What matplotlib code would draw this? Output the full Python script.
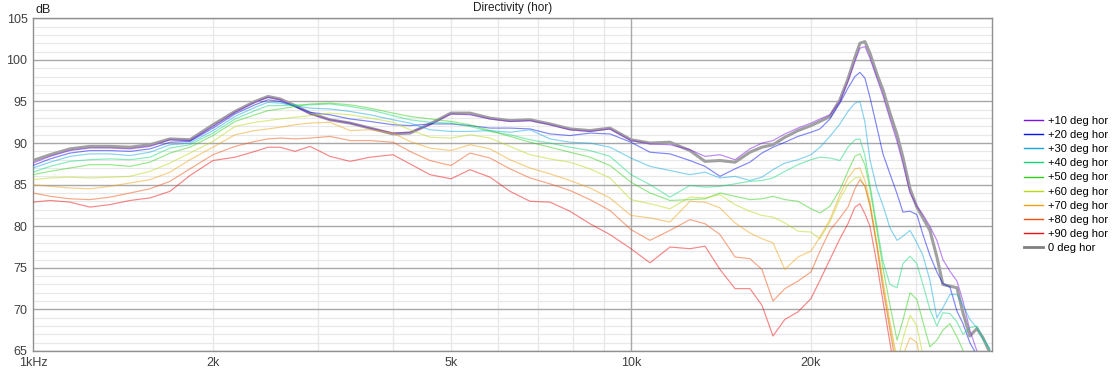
import matplotlib
matplotlib.use("Agg")
import matplotlib.pyplot as plt
from matplotlib.lines import Line2D
from matplotlib.ticker import NullLocator

# frequency points (Hz)
freq = [
    1000, 1068, 1153, 1245, 1345, 1453, 1569, 1695, 1830, 2000,
    2177, 2351, 2472, 2590, 2742, 2906, 3138, 3390, 3661, 4000,
    4270, 4612, 5000, 5380, 5811, 6276, 6779, 7321, 7907, 8540, 9223, 10000,
    10760, 11620, 12550, 13300, 14090, 14930, 15810, 16560, 17280, 18090, 19020,
    20000, 20705, 21515,
    22360, 23060, 23690, 24150, 24620, 25100, 25780, 26390, 27110, 27860, 28500,
    29290, 30070, 30780, 31620, 32480, 33240, 34150, 35090, 35910, 36880, 37890,
    38780, 39840,
]

spl_0 = [
    87.9, 88.6, 89.3, 89.6, 89.6, 89.5, 89.8, 90.5, 90.4, 92.2,
    93.8, 95.0, 95.6, 95.3, 94.5, 93.6, 92.8, 92.4, 91.8, 91.1,
    91.2, 92.3, 93.6, 93.6, 93.0, 92.7, 92.8, 92.3, 91.7, 91.5, 91.8, 90.4,
    90.0, 90.1, 89.1, 87.8, 87.9, 87.7, 88.9, 89.5, 89.8, 90.7, 91.5,
    92.1, 92.6, 93.2,
    95.2, 97.7, 100.3, 102.0, 102.2, 100.8, 98.3, 96.4, 93.6, 91.0, 88.3,
    84.5, 82.3, 81.0, 79.5, 76.3, 73.0, 72.8, 72.6, 69.6, 66.8, 67.7, 66.6, 64.8,
]
spl_10 = [
    87.6, 88.4, 89.1, 89.4, 89.4, 89.3, 89.6, 90.4, 90.3, 92.0,
    93.7, 94.9, 95.5, 95.2, 94.4, 93.5, 92.8, 92.4, 91.8, 91.2,
    91.3, 92.2, 93.5, 93.4, 92.9, 92.6, 92.7, 92.2, 91.6, 91.4, 91.7, 90.3,
    89.9, 89.8, 89.2, 88.4, 88.6, 88.0, 89.3, 90.0, 90.3, 91.1, 91.8,
    92.4, 92.9, 93.4,
    95.0, 97.4, 99.8, 101.4, 101.6, 100.2, 97.8, 95.7, 92.9, 90.2, 87.5,
    84.0, 82.4, 81.4, 80.0, 78.3, 76.0, 74.6, 73.4, 71.0, 67.5, 65.0, 63.5, 62.5,
]
spl_20 = [
    87.3, 88.1, 88.8, 89.1, 89.1, 89.0, 89.3, 90.1, 90.2, 91.8,
    93.5, 94.6, 95.2, 95.0, 94.4, 93.7, 93.4, 92.9, 92.6, 92.2,
    92.1, 92.3, 92.3, 92.1, 91.8, 91.8, 91.7, 91.1, 90.9, 91.2, 91.1, 90.1,
    88.9, 88.7, 87.9, 87.2, 86.0, 86.9, 87.7, 88.8, 89.5, 90.1, 90.8,
    91.3, 91.7, 92.9,
    94.8, 96.6, 98.0, 98.5, 97.8, 95.5, 91.9, 88.7, 86.3, 83.9, 81.7,
    81.8, 81.4, 79.0, 76.5, 74.5, 73.1, 72.7, 69.8, 68.3, 66.0, 64.5, 63.5, 63.0,
]
spl_30 = [
    87.0, 87.7, 88.4, 88.7, 88.7, 88.5, 88.9, 89.8, 90.0, 91.5,
    93.2, 94.3, 94.9, 94.8, 94.5, 94.2, 94.1, 93.8, 93.4, 92.8,
    92.4, 91.6, 91.4, 91.4, 91.5, 91.3, 91.6, 90.5, 90.1, 90.0, 89.5, 88.2,
    87.2, 86.7, 86.2, 86.5, 85.8, 86.0, 85.5, 85.9, 86.8, 87.6, 88.0,
    88.6, 89.5, 90.8,
    92.3, 93.8, 94.8, 95.0, 92.5, 88.0, 84.5, 82.5, 79.8, 78.3, 78.8,
    79.5, 78.0, 76.5, 73.5, 69.0, 70.2, 71.8, 71.8, 70.5, 68.8, 67.8, 66.5, 65.3,
]
spl_40 = [
    86.5, 87.2, 87.8, 88.0, 88.1, 88.0, 88.3, 89.4, 89.8, 91.2,
    92.9, 93.9, 94.5, 94.5, 94.6, 94.6, 94.7, 94.4, 94.0, 93.3,
    92.8, 92.5, 92.4, 92.0, 91.4, 91.0, 90.4, 90.0, 89.5, 89.1, 88.4, 86.2,
    85.0, 83.5, 84.9, 84.7, 84.8, 85.1, 85.4, 85.5, 85.8, 86.6, 87.4,
    88.0, 88.3, 88.2,
    87.9, 89.5, 90.4, 90.5, 88.5, 85.0, 80.0, 75.8, 73.0, 72.6, 75.5,
    76.4, 75.5, 73.0, 70.0, 68.0, 69.6, 69.5, 68.5, 67.0, 67.8, 68.0, 66.5, 65.0,
]
spl_50 = [
    86.2, 86.6, 87.0, 87.4, 87.4, 87.2, 87.7, 88.8, 89.5, 90.9,
    92.6, 93.4, 93.9, 94.1, 94.4, 94.7, 94.8, 94.6, 94.2, 93.6,
    93.2, 92.9, 92.6, 92.2, 91.5, 90.8, 90.1, 89.5, 88.9, 88.3, 87.3, 85.3,
    84.0, 83.1, 83.2, 83.3, 84.0, 83.6, 83.2, 83.3, 83.6, 83.2, 83.0,
    82.1, 81.6, 82.4,
    84.4, 86.6, 88.4, 88.7, 87.4, 84.5, 79.5, 75.0, 70.5, 66.3, 68.7,
    72.0, 71.2, 68.5, 65.5, 66.3, 67.5, 68.3, 66.7, 65.1, 64.0, 63.5, 63.0, 62.5,
]
spl_60 = [
    85.6, 85.8, 85.9, 85.8, 85.9, 86.0, 86.6, 87.6, 88.8, 90.2,
    92.0, 92.5, 92.7, 92.9, 93.1, 93.3, 93.6, 93.4, 93.0, 92.5,
    91.6, 90.7, 90.6, 91.0, 90.6, 89.6, 88.6, 88.1, 87.7, 86.9, 85.8, 83.2,
    82.7, 82.1, 83.5, 83.4, 83.8, 82.6, 81.8, 81.3, 81.1, 80.4, 79.4,
    79.3, 78.5, 80.5,
    83.3, 85.0, 85.8, 85.9, 84.8, 82.5, 77.8, 73.0, 68.0, 63.5, 66.5,
    69.3, 68.0, 64.5, 62.0, 61.0, 60.5, 60.0, 60.0, 60.0, 60.0, 60.0, 60.0, 60.0,
]
spl_70 = [
    85.0, 84.8, 84.6, 84.5, 84.8, 85.2, 85.6, 86.5, 88.0, 89.5,
    91.0, 91.5, 91.7, 91.9, 92.2, 92.4, 92.5, 91.5, 91.6, 91.2,
    90.2, 89.4, 89.1, 89.8, 89.3, 88.0, 87.0, 86.3, 85.5, 84.6, 83.4, 81.3,
    81.0, 80.5, 83.0, 82.9, 82.2, 80.4, 79.2, 78.5, 78.0, 74.8, 76.3,
    77.0, 78.7, 80.8,
    83.8, 85.8, 86.9, 87.0, 85.5, 83.0, 78.0, 73.5, 68.5, 64.0, 64.5,
    66.6, 66.0, 62.5, 60.0, 60.0, 60.0, 60.0, 60.0, 60.0, 60.0, 60.0, 60.0, 60.0,
]
spl_80 = [
    84.0, 83.6, 83.3, 83.2, 83.5, 84.0, 84.5, 85.4, 86.9, 88.6,
    89.6, 90.2, 90.5, 90.6, 90.5, 90.6, 90.8, 90.3, 90.3, 90.1,
    89.0, 87.9, 87.3, 88.8, 88.2, 86.9, 85.8, 85.1, 84.3, 83.2, 81.9, 79.6,
    78.3, 79.5, 80.8, 80.3, 79.0, 76.3, 76.1, 74.8, 71.0, 72.5, 73.4,
    74.5, 77.0, 79.5,
    81.0, 82.3, 84.5, 85.6, 84.8, 82.5, 77.5, 72.5, 67.5, 62.5, 60.0,
    60.0, 60.0, 60.0, 60.0, 60.0, 60.0, 60.0, 60.0, 60.0, 60.0, 60.0, 60.0, 60.0,
]
spl_90 = [
    82.9, 83.1, 82.9, 82.3, 82.6, 83.1, 83.4, 84.2, 86.1, 87.9,
    88.3, 89.0, 89.5, 89.5, 89.0, 89.6, 88.4, 87.8, 88.3, 88.6,
    87.5, 86.2, 85.7, 86.8, 85.9, 84.2, 83.0, 82.9, 81.8, 80.3, 79.0, 77.3,
    75.6, 77.5, 77.3, 77.6, 74.8, 72.5, 72.5, 70.5, 66.8, 68.8, 69.7,
    71.3, 73.5, 76.0,
    78.5, 80.3, 82.3, 82.7, 81.5, 80.0, 75.5, 71.0, 66.0, 61.0, 58.0,
    58.0, 58.0, 58.0, 58.0, 58.0, 58.0, 58.0, 58.0, 58.0, 58.0, 58.0, 58.0, 58.0,
]

labels = ["+10 deg hor", "+20 deg hor", "+30 deg hor", "+40 deg hor", "+50 deg hor",
          "+60 deg hor", "+70 deg hor", "+80 deg hor", "+90 deg hor"]
series = [spl_10, spl_20, spl_30, spl_40, spl_50, spl_60, spl_70, spl_80, spl_90]
colors = ["#7a10e8", "#0010f0", "#10a8e0", "#10d878", "#30d018",
          "#b8d810", "#f0a010", "#f05010", "#f01010"]

x_ticks = [1000, 2000, 5000, 10000, 20000]
x_labels = ["1kHz", "2k", "5k", "10k", "20k"]
y_ticks = [65, 70, 75, 80, 85, 90, 95, 100, 105]

plt.rcParams["font.family"] = ["Liberation Sans", "DejaVu Sans"]

W, H = 1116, 369
fig = plt.figure(figsize=(W / 100, H / 100), dpi=100)
ax = fig.add_axes([33 / W, 1 - 351 / H, (992 - 33) / W, (351 - 18.3) / H])
ax.set_xscale("log")
ax.set_xlim(1000, 40160)
ax.set_ylim(65, 105)

# grid
for v in range(66, 105):
    if v % 5:
        ax.axhline(v, color="#e8e8e8", lw=0.9, zorder=0)
for v in y_ticks:
    ax.axhline(v, color="#a8a8a8", lw=1.0, zorder=0.5)
for f in [2000, 3000, 4000, 5000, 6000, 7000, 8000, 9000, 20000, 30000]:
    ax.axvline(f, color="#e8e8e8", lw=1.0, zorder=0)
ax.axvline(10000, color="#a8a8a8", lw=1.0, zorder=0.5)

ax.plot(freq, spl_0, color="#a0a0a0", lw=2.2, zorder=2)
for s, c in zip(series, colors):
    ax.plot(freq, s, color=c, lw=0.85, alpha=0.5, zorder=3)

for sp in ax.spines.values():
    sp.set_color("#909090")
    sp.set_linewidth(1.0)

ax.set_xticks(x_ticks)
ax.set_xticklabels(x_labels)
ax.xaxis.set_minor_locator(NullLocator())
ax.set_yticks(y_ticks)
ax.set_yticklabels([str(v) for v in y_ticks])
ax.tick_params(length=0, labelsize=9, labelcolor="#404040", pad=4)

fig.text(512.5 / W, 1 - 8 / H, "Directivity (hor)", ha="center", va="center",
         fontsize=8.5, color="#202020")
fig.text(35 / W, 1 - 10 / H, "dB", ha="left", va="center", fontsize=9,
         color="#202020")

handles = [Line2D([], [], color=c, lw=1.0) for c in colors]
handles.append(Line2D([], [], color="#808080", lw=2.0))
fig.legend(handles, labels + ["0 deg hor"], loc="upper left",
           bbox_to_anchor=(1024 / W, 1 - 116 / H), frameon=False, fontsize=8,
           handlelength=1.7, labelspacing=0.37, handletextpad=0.45,
           borderaxespad=0, borderpad=0)

fig.savefig("out.png", dpi=100)
